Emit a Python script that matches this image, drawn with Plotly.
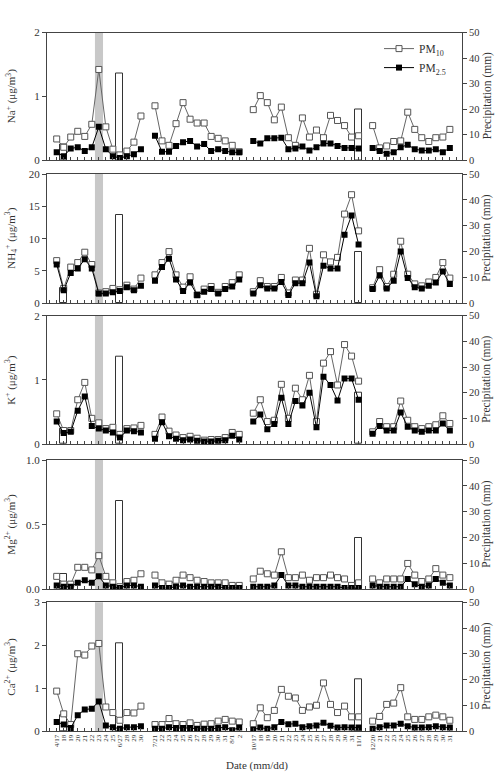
import plotly.graph_objects as go

# ---------------- data ----------------
g1_dates = ["4/17", "18", "19", "20", "21", "22", "23", "24", "25", "6/27", "28", "29", "30"]
g2_dates = ["7/21", "22", "23", "24", "25", "26", "27", "28", "29", "30", "31", "8/1", "2"]
g3_dates = ["10/17", "18", "19", "20", "21", "22", "23", "24", "25", "26", "27", "28", "29", "30", "31", "11/1"]
g4_dates = ["12/20", "21", "22", "23", "24", "25", "26", "27", "28", "29", "30", "31"]

na_pm10 = [[0.33, 0.20, 0.36, 0.45, 0.37, 0.56, 1.42, 0.52, 0.17, 0.08, 0.14, 0.28, 0.69],
           [0.85, 0.30, 0.23, 0.57, 0.90, 0.64, 0.58, 0.58, 0.37, 0.34, 0.30, 0.23, 0.13],
           [0.79, 1.01, 0.90, 0.63, 0.83, 0.35, 0.23, 0.66, 0.36, 0.47, 0.35, 0.70, 0.62, 0.54, 0.36, 0.38],
           [0.54, 0.19, 0.22, 0.29, 0.30, 0.75, 0.48, 0.35, 0.29, 0.35, 0.36, 0.48]]
na_pm25 = [[0.12, 0.06, 0.18, 0.20, 0.14, 0.20, 0.52, 0.17, 0.06, 0.03, 0.06, 0.09, 0.17],
           [0.38, 0.13, 0.13, 0.22, 0.28, 0.30, 0.21, 0.25, 0.14, 0.17, 0.14, 0.12, 0.12],
           [0.30, 0.26, 0.34, 0.34, 0.35, 0.17, 0.18, 0.21, 0.15, 0.20, 0.26, 0.26, 0.22, 0.19, 0.19, 0.18],
           [0.19, 0.14, 0.10, 0.12, 0.20, 0.24, 0.17, 0.15, 0.15, 0.17, 0.12, 0.19]]

nh4_pm10 = [[6.6, 2.3, 5.6, 6.3, 7.9, 6.0, 1.6, 1.8, 2.3, 2.1, 2.8, 2.2, 3.9],
            [4.4, 6.3, 8.0, 4.4, 2.5, 4.1, 1.3, 2.2, 2.6, 1.7, 2.6, 3.2, 4.4],
            [1.8, 3.5, 2.6, 2.6, 4.0, 1.6, 3.6, 3.6, 8.5, 1.4, 7.5, 6.4, 7.1, 13.8, 16.8, 11.2],
            [2.4, 5.2, 2.6, 4.5, 9.6, 4.5, 3.0, 2.7, 3.3, 4.0, 6.3, 3.9]]
nh4_pm25 = [[6.0, 2.0, 4.7, 5.4, 6.8, 5.4, 1.5, 1.5, 1.7, 1.9, 2.5, 2.0, 2.7],
            [3.5, 5.6, 6.9, 3.7, 1.9, 3.2, 1.3, 1.8, 2.2, 1.5, 2.2, 2.6, 3.7],
            [1.5, 2.8, 2.3, 2.3, 3.3, 1.3, 3.1, 3.1, 6.3, 1.1, 5.8, 5.4, 5.4, 10.6, 13.6, 9.1],
            [2.2, 4.3, 2.3, 3.5, 8.0, 3.9, 2.5, 2.3, 2.7, 3.2, 4.9, 3.0]]

k_pm10 = [[0.47, 0.21, 0.21, 0.69, 0.96, 0.40, 0.33, 0.24, 0.26, 0.15, 0.24, 0.25, 0.29],
          [0.15, 0.42, 0.20, 0.14, 0.10, 0.12, 0.09, 0.06, 0.07, 0.07, 0.10, 0.18, 0.15],
          [0.48, 0.69, 0.35, 0.37, 0.93, 0.40, 0.87, 0.69, 1.07, 0.35, 1.26, 1.44, 0.92, 1.55, 1.37, 0.98],
          [0.19, 0.35, 0.27, 0.27, 0.67, 0.37, 0.27, 0.24, 0.27, 0.30, 0.44, 0.32]]
k_pm25 = [[0.35, 0.17, 0.19, 0.52, 0.74, 0.28, 0.24, 0.21, 0.18, 0.10, 0.21, 0.20, 0.18],
          [0.08, 0.34, 0.12, 0.08, 0.06, 0.07, 0.05, 0.04, 0.04, 0.05, 0.06, 0.13, 0.07],
          [0.35, 0.46, 0.23, 0.31, 0.72, 0.31, 0.67, 0.60, 0.80, 0.26, 1.05, 0.92, 0.68, 1.02, 1.02, 0.69],
          [0.16, 0.28, 0.21, 0.21, 0.49, 0.27, 0.21, 0.19, 0.21, 0.21, 0.32, 0.21]]

mg_pm10 = [[0.10, 0.04, 0.04, 0.17, 0.17, 0.15, 0.26, 0.10, 0.05, 0.02, 0.06, 0.07, 0.12],
           [0.11, 0.05, 0.04, 0.07, 0.11, 0.09, 0.07, 0.06, 0.05, 0.05, 0.05, 0.03, 0.03],
           [0.08, 0.14, 0.12, 0.11, 0.29, 0.09, 0.09, 0.11, 0.07, 0.09, 0.09, 0.11, 0.09, 0.08, 0.03, 0.05],
           [0.08, 0.05, 0.08, 0.08, 0.08, 0.20, 0.11, 0.06, 0.08, 0.16, 0.11, 0.09]]
mg_pm25 = [[0.03, 0.02, 0.02, 0.05, 0.07, 0.05, 0.10, 0.03, 0.02, 0.01, 0.03, 0.03, 0.02],
           [0.03, 0.01, 0.01, 0.02, 0.03, 0.02, 0.02, 0.02, 0.02, 0.02, 0.01, 0.01, 0.01],
           [0.02, 0.02, 0.02, 0.03, 0.11, 0.03, 0.03, 0.02, 0.02, 0.02, 0.02, 0.02, 0.02, 0.01, 0.01, 0.01],
           [0.03, 0.02, 0.02, 0.02, 0.02, 0.08, 0.04, 0.02, 0.03, 0.08, 0.05, 0.03]]

ca_pm10 = [[0.93, 0.40, 0.15, 1.80, 1.77, 1.98, 2.04, 0.56, 0.43, 0.25, 0.43, 0.42, 0.58],
           [0.15, 0.15, 0.29, 0.17, 0.15, 0.19, 0.13, 0.16, 0.17, 0.23, 0.27, 0.23, 0.21],
           [0.17, 0.54, 0.31, 0.48, 0.97, 0.81, 0.77, 0.48, 0.56, 0.60, 1.12, 0.62, 0.43, 0.58, 0.33, 0.33],
           [0.23, 0.34, 0.62, 0.65, 1.01, 0.33, 0.27, 0.27, 0.33, 0.37, 0.33, 0.25]]
ca_pm25 = [[0.21, 0.15, 0.07, 0.37, 0.50, 0.52, 0.69, 0.13, 0.09, 0.05, 0.09, 0.09, 0.11],
           [0.05, 0.05, 0.09, 0.07, 0.07, 0.07, 0.05, 0.05, 0.05, 0.07, 0.09, 0.02, 0.08],
           [0.03, 0.08, 0.05, 0.09, 0.21, 0.16, 0.17, 0.09, 0.11, 0.13, 0.19, 0.12, 0.08, 0.09, 0.08, 0.08],
           [0.05, 0.09, 0.13, 0.13, 0.17, 0.11, 0.08, 0.08, 0.09, 0.11, 0.09, 0.08]]

# precipitation (mm) per group, None = no rain
precip = [[None, 6, None, None, None, None, None, None, None, 34, None, None, None],
          [None] * 13,
          [None] * 15 + [20],
          [None] * 12]

dust_group_index = 6   # shaded dust event (4/23)

panel_titles = ["Na<sup>+</sup> (μg/m<sup>3</sup>)",
                "NH<sub>4</sub><sup>+</sup> (μg/m<sup>3</sup>)",
                "K<sup>+</sup> (μg/m<sup>3</sup>)",
                "Mg<sup>2+</sup> (μg/m<sup>3</sup>)",
                "Ca<sup>2+</sup> (μg/m<sup>3</sup>)"]
panel_ranges = [[0, 2], [0, 20], [0, 2], [0, 1.0], [0, 3]]
panel_ticks = [[0, 1, 2], [0, 5, 10, 15, 20], [0, 1, 2], [0, 0.5, 1.0], [0, 1, 2, 3]]
panel_ticktext = [["0", "1", "2"], ["0", "5", "10", "15", "20"], ["0", "1", "2"],
                  ["0.0", "0.5", "1.0"], ["0", "1", "2", "3"]]
precip_ticks = [0, 10, 20, 30, 40, 50]

# ---------------- build ----------------
groups = [g1_dates, g2_dates, g3_dates, g4_dates]


def flatten(glist):
    out = []
    for gi, g in enumerate(glist):
        if gi > 0:
            out.append(None)
        out.extend(g)
    return out


# positions: one empty slot between groups
label_pos, label_txt = [], []
pos = 0
for gi, g in enumerate(groups):
    if gi > 0:
        pos += 1
    for d in g:
        label_pos.append(pos)
        label_txt.append(d)
        pos += 1
n_slots = pos
xpos = list(range(n_slots))
dust_x = label_pos[dust_group_index]

series = [(na_pm10, na_pm25), (nh4_pm10, nh4_pm25), (k_pm10, k_pm25),
          (mg_pm10, mg_pm25), (ca_pm10, ca_pm25)]
precip_full = flatten(precip)

FONT = "Liberation Serif, Times New Roman, serif"
TXT = "#333"
AX = "#444"

T, B, L, R = 32, 42, 47, 37
H, W = 773, 499
ph = H - T - B
panel_px = [(32.5, 160), (174, 303.3), (315.7, 444), (460, 589.3), (602.3, 731)]
domains = [[max(0.0, (T + ph - b) / ph), min(1.0, (T + ph - t) / ph)] for (t, b) in panel_px]

fig = go.Figure()
layout = dict(
    width=W, height=H,
    margin=dict(l=L, r=R, t=T, b=B, pad=0),
    paper_bgcolor="white", plot_bgcolor="white",
    font=dict(family=FONT, size=11, color=TXT),
    showlegend=True,
    legend=dict(x=0.80, y=0.997, xanchor="left", yanchor="top", bgcolor="rgba(0,0,0,0)",
                font=dict(size=11.5, family=FONT, color=TXT), tracegroupgap=0, itemwidth=30),
    bargap=0,
)
shapes = []
annotations = []
xr = [-1.38, n_slots - 1 + 1.73]

for i in range(5):
    n = i + 1
    xid = "x" if n == 1 else f"x{n}"
    xkey = "xaxis" if n == 1 else f"xaxis{n}"
    bid = 2 * n - 1
    oid = 2 * n
    bref = "y" if bid == 1 else f"y{bid}"
    oref = f"y{oid}"
    bkey = "yaxis" if bid == 1 else f"yaxis{bid}"
    okey = f"yaxis{oid}"

    layout[xkey] = dict(domain=[0, 1], anchor=bref, range=xr, tickmode="array",
                        tickvals=label_pos, ticktext=label_txt,
                        showticklabels=(n == 5), tickangle=-90,
                        tickfont=dict(size=7, family=FONT, color=TXT),
                        ticks="inside", ticklen=3, tickcolor=AX, tickwidth=1,
                        minor=dict(tickmode="linear", tick0=0, dtick=1, ticks="inside",
                                   ticklen=3, tickcolor=AX, tickwidth=1, showgrid=False),
                        showline=True, linecolor=AX, linewidth=1, mirror=True,
                        showgrid=False, zeroline=False)
    layout[bkey] = dict(domain=domains[i], anchor=xid, side="right", range=[0, 50],
                        tickmode="array", tickvals=precip_ticks,
                        ticks="outside", ticklen=4, tickcolor=AX,
                        showline=True, linecolor=AX, linewidth=1,
                        showgrid=False, zeroline=False,
                        tickfont=dict(size=10.5, family=FONT, color=TXT))
    layout[okey] = dict(overlaying=bref, anchor=xid, side="left", range=panel_ranges[i],
                        tickmode="array", tickvals=panel_ticks[i], ticktext=panel_ticktext[i],
                        ticks="outside", ticklen=4, tickcolor=AX,
                        showline=True, linecolor=AX, linewidth=1,
                        showgrid=False, zeroline=False,
                        tickfont=dict(size=11, family=FONT, color=TXT))

    # precipitation bars (base axis, drawn underneath)
    fig.add_trace(go.Bar(x=xpos, y=precip_full, xaxis=xid, yaxis=bref, width=1.0,
                         marker=dict(color="white", line=dict(color="#333", width=1)),
                         showlegend=False, hoverinfo="skip"))
    p10, p25 = series[i]
    fig.add_trace(go.Scatter(x=xpos, y=flatten(p10), xaxis=xid, yaxis=oref,
                             mode="lines+markers", name="PM<sub>10</sub>",
                             line=dict(color="#666", width=1), connectgaps=False,
                             marker=dict(symbol="square", size=6, color="white",
                                         line=dict(color="#555", width=1)),
                             showlegend=(n == 1)))
    fig.add_trace(go.Scatter(x=xpos, y=flatten(p25), xaxis=xid, yaxis=oref,
                             mode="lines+markers", name="PM<sub>2.5</sub>",
                             line=dict(color="black", width=1), connectgaps=False,
                             marker=dict(symbol="square", size=6, color="black",
                                         line=dict(color="black", width=0)),
                             showlegend=(n == 1)))

    shapes.append(dict(type="rect", xref=xid, yref=f"{bref} domain",
                       x0=dust_x - 0.55, x1=dust_x + 0.6, y0=0, y1=1,
                       fillcolor="#c8c8c8", line=dict(width=0), layer="below"))
    yc = (domains[i][0] + domains[i][1]) / 2
    annotations.append(dict(text=panel_titles[i], xref="paper", yref="paper",
                            x=(11 - L) / (W - L - R), y=yc, textangle=-90, showarrow=False,
                            xanchor="center", yanchor="middle",
                            font=dict(size=11, family=FONT, color=TXT)))
    annotations.append(dict(text="Precipitation (mm)", xref="paper", yref="paper",
                            x=(487 - L) / (W - L - R), y=yc, textangle=-90, showarrow=False,
                            xanchor="center", yanchor="middle",
                            font=dict(size=11.5, family=FONT, color=TXT)))

annotations.append(dict(text="Date (mm/dd)", xref="paper", yref="paper",
                        x=(257 - L) / (W - L - R), y=(T + ph - 765) / ph, showarrow=False,
                        xanchor="center", yanchor="middle",
                        font=dict(size=11, family=FONT, color=TXT)))

layout["shapes"] = shapes
layout["annotations"] = annotations
fig.update_layout(**layout)
fig.write_html("out.html")
